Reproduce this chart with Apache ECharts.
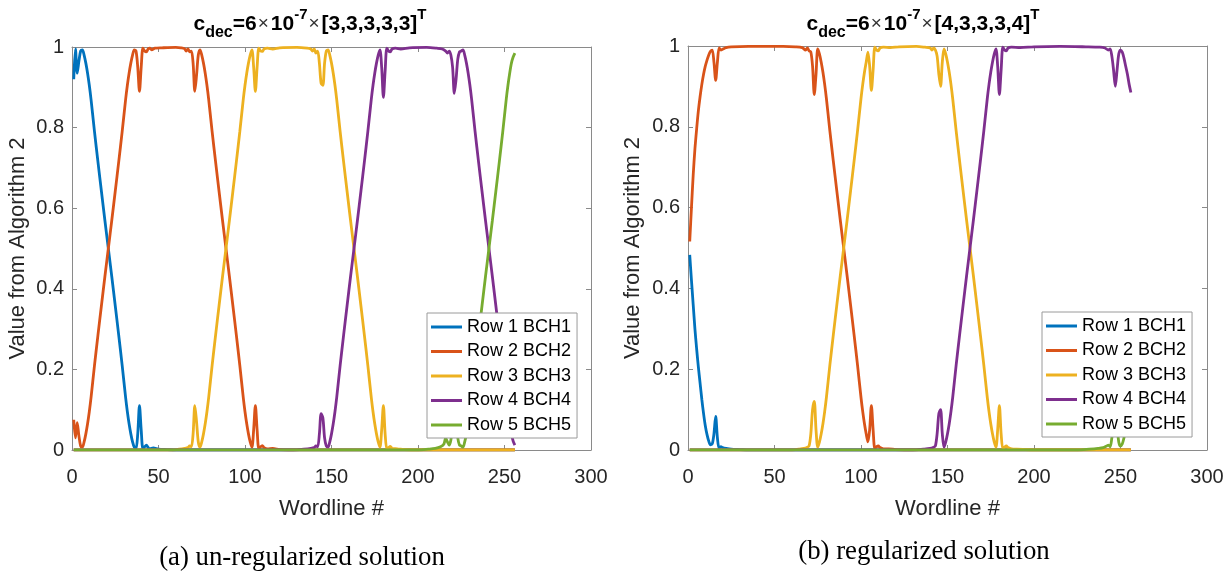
<!DOCTYPE html>
<html>
<head>
<meta charset="utf-8">
<script src="https://cdn.jsdelivr.net/npm/echarts@6/dist/echarts.min.js"></script>
<style>html,body{margin:0;padding:0;background:#fff}#c{width:1231px;height:573px}</style>
</head>
<body>
<div id="c"></div>
<script>
// ---------- DATA ----------
const seriesNames = ['Row 1 BCH1', 'Row 2 BCH2', 'Row 3 BCH3', 'Row 4 BCH4', 'Row 5 BCH5'];
const xTicks = [0, 50, 100, 150, 200, 250, 300];
const yTicks = [0, 0.2, 0.4, 0.6, 0.8, 1];
const titleA = ['3,3,3,3,3'];
const titleB = ['4,3,3,3,4'];
const captionA = '(a) un-regularized solution';
const captionB = '(b) regularized solution';

// (a) un-regularized: [wordline, value]
const aRow1 = [[1,0.92],[2,0.995],[3,0.935],[4,0.965],[5,0.99],[6,0.993],[7,0.98],[8,0.96],[9,0.935],[10,0.905],[11,0.87],[13,0.79],[15,0.715],[17,0.642],[19,0.57],[21,0.5],[23,0.43],[25,0.358],[27,0.285],[29,0.21],[31,0.13],[32,0.095],[33,0.065],[34,0.04],[35,0.02],[36,0.007],[37,0.003],[38,0.04],[39,0.11],[40,0.05],[41,0.003],[42,0.008],[43,0.012],[44,0.006],[45,0.003],[47,0.005],[50,0.002],[55,0.001],[60,0],[256,0]];
const aRow2 = [[1,0.075],[2,0.03],[3,0.068],[4,0.035],[5,0.01],[6,0.007],[7,0.02],[8,0.04],[9,0.065],[10,0.095],[11,0.13],[13,0.21],[15,0.285],[17,0.358],[19,0.43],[21,0.5],[23,0.57],[25,0.642],[27,0.715],[29,0.79],[31,0.87],[32,0.905],[33,0.935],[34,0.96],[35,0.98],[36,0.993],[37,0.99],[38,0.95],[39,0.89],[40,0.95],[41,0.997],[42,0.99],[43,0.988],[44,0.995],[45,0.997],[46,0.993],[48,0.997],[52,0.998],[60,0.999],[63,0.998],[65,0.996],[66,0.99],[67,0.995],[68,0.988],[69,0.99],[70,0.96],[71,0.89],[72,0.93],[73,0.98],[74,0.993],[75,0.98],[76,0.96],[77,0.935],[78,0.905],[79,0.87],[81,0.79],[83,0.715],[85,0.642],[87,0.57],[89,0.5],[91,0.43],[93,0.358],[95,0.285],[97,0.21],[99,0.13],[100,0.095],[101,0.065],[102,0.04],[103,0.02],[104,0.007],[105,0.05],[106,0.11],[107,0.05],[108,0.003],[109,0.008],[110,0.011],[111,0.006],[113,0.003],[116,0.004],[120,0.001],[125,0],[256,0]];
const aRow3 = [[1,0],[58,0],[62,0.002],[65,0.004],[67,0.006],[68,0.01],[69,0.008],[70,0.04],[71,0.11],[72,0.07],[73,0.02],[74,0.007],[75,0.02],[76,0.04],[77,0.065],[78,0.095],[79,0.13],[81,0.21],[83,0.285],[85,0.358],[87,0.43],[89,0.5],[91,0.57],[93,0.642],[95,0.715],[97,0.79],[99,0.87],[100,0.905],[101,0.935],[102,0.96],[103,0.98],[104,0.993],[105,0.95],[106,0.89],[107,0.95],[108,0.997],[109,0.99],[110,0.989],[111,0.995],[113,0.997],[116,0.995],[120,0.998],[130,0.999],[136,0.997],[138,0.995],[139,0.99],[140,0.995],[141,0.985],[142,0.99],[143,0.96],[144,0.91],[145,0.905],[146,0.96],[147,0.99],[148,0.993],[149,0.98],[150,0.96],[151,0.935],[152,0.905],[153,0.87],[155,0.79],[157,0.715],[159,0.642],[161,0.57],[163,0.5],[165,0.43],[167,0.358],[169,0.285],[171,0.21],[173,0.13],[174,0.095],[175,0.065],[176,0.04],[177,0.02],[178,0.007],[179,0.05],[180,0.11],[181,0.04],[182,0.002],[183,0.006],[184,0.009],[185,0.004],[188,0.003],[192,0.001],[196,0],[256,0]];
const aRow4 = [[1,0],[128,0],[134,0.002],[138,0.004],[140,0.006],[141,0.01],[142,0.008],[143,0.04],[144,0.09],[145,0.08],[146,0.03],[147,0.01],[148,0.007],[149,0.02],[150,0.04],[151,0.065],[152,0.095],[153,0.13],[155,0.21],[157,0.285],[159,0.358],[161,0.43],[163,0.5],[165,0.57],[167,0.642],[169,0.715],[171,0.79],[173,0.87],[174,0.905],[175,0.935],[176,0.96],[177,0.98],[178,0.993],[179,0.95],[180,0.875],[181,0.94],[182,0.997],[183,0.99],[184,0.988],[185,0.995],[187,0.997],[190,0.995],[195,0.998],[205,0.999],[211,0.997],[214,0.995],[216,0.99],[217,0.985],[218,0.99],[219,0.98],[220,0.95],[221,0.885],[222,0.92],[223,0.97],[224,0.988],[225,0.99],[226,0.993],[227,0.98],[228,0.96],[229,0.935],[230,0.905],[231,0.87],[233,0.79],[235,0.715],[237,0.642],[239,0.57],[241,0.5],[243,0.43],[245,0.358],[247,0.285],[249,0.21],[251,0.13],[252,0.095],[253,0.065],[254,0.04],[255,0.022],[256,0.012]];
const aRow5 = [[1,0],[200,0],[206,0.002],[210,0.004],[213,0.008],[215,0.015],[216,0.03],[217,0.02],[218,0.012],[219,0.025],[220,0.06],[221,0.11],[222,0.08],[223,0.03],[224,0.012],[225,0.01],[226,0.007],[227,0.02],[228,0.04],[229,0.065],[230,0.095],[231,0.13],[233,0.21],[235,0.285],[237,0.358],[239,0.43],[241,0.5],[243,0.57],[245,0.642],[247,0.715],[249,0.79],[251,0.87],[252,0.905],[253,0.935],[254,0.96],[255,0.975],[256,0.985]];

// (b) regularized
const bRow1 = [[1,0.483],[2,0.42],[3,0.36],[4,0.3],[5,0.25],[6,0.205],[7,0.165],[8,0.125],[9,0.09],[10,0.06],[11,0.038],[12,0.022],[13,0.013],[14,0.015],[15,0.04],[16,0.083],[17,0.03],[18,0.004],[19,0.008],[20,0.006],[22,0.004],[25,0.002],[30,0.001],[35,0],[256,0]];
const bRow2 = [[1,0.516],[2,0.6],[3,0.68],[4,0.745],[5,0.795],[6,0.84],[7,0.875],[8,0.905],[9,0.93],[10,0.95],[11,0.965],[12,0.978],[13,0.987],[14,0.99],[15,0.96],[16,0.915],[17,0.96],[18,0.995],[19,0.99],[20,0.992],[22,0.996],[25,0.998],[35,0.999],[55,0.999],[62,0.998],[66,0.996],[68,0.99],[69,0.995],[70,0.988],[71,0.985],[72,0.95],[73,0.88],[74,0.93],[75,0.993],[76,0.98],[77,0.96],[78,0.935],[79,0.905],[80,0.87],[82,0.79],[84,0.715],[86,0.642],[88,0.57],[90,0.5],[92,0.43],[94,0.358],[96,0.285],[98,0.21],[100,0.13],[101,0.095],[102,0.065],[103,0.04],[104,0.02],[105,0.05],[106,0.11],[107,0.05],[108,0.004],[109,0.008],[110,0.01],[111,0.006],[113,0.003],[116,0.003],[120,0.001],[125,0],[256,0]];
const bRow3 = [[1,0],[60,0],[64,0.002],[67,0.004],[69,0.007],[70,0.01],[71,0.04],[72,0.1],[73,0.12],[74,0.05],[75,0.007],[76,0.02],[77,0.04],[78,0.065],[79,0.095],[80,0.13],[82,0.21],[84,0.285],[86,0.358],[88,0.43],[90,0.5],[92,0.57],[94,0.642],[96,0.715],[98,0.79],[100,0.87],[101,0.905],[102,0.935],[103,0.96],[104,0.985],[105,0.95],[106,0.89],[107,0.94],[108,0.997],[109,0.99],[110,0.988],[111,0.995],[113,0.997],[117,0.996],[122,0.998],[132,0.999],[137,0.997],[140,0.995],[141,0.99],[142,0.995],[143,0.99],[144,0.975],[145,0.93],[146,0.9],[147,0.96],[148,0.993],[149,0.98],[150,0.96],[151,0.935],[152,0.905],[153,0.87],[155,0.79],[157,0.715],[159,0.642],[161,0.57],[163,0.5],[165,0.43],[167,0.358],[169,0.285],[171,0.21],[173,0.13],[174,0.095],[175,0.065],[176,0.04],[177,0.02],[178,0.007],[179,0.05],[180,0.11],[181,0.04],[182,0.003],[183,0.007],[184,0.01],[185,0.006],[187,0.003],[190,0.002],[195,0.001],[200,0],[256,0]];
const bRow4 = [[1,0],[130,0],[136,0.002],[140,0.004],[142,0.007],[143,0.01],[144,0.04],[145,0.09],[146,0.1],[147,0.04],[148,0.007],[149,0.02],[150,0.04],[151,0.065],[152,0.095],[153,0.13],[155,0.21],[157,0.285],[159,0.358],[161,0.43],[163,0.5],[165,0.57],[167,0.642],[169,0.715],[171,0.79],[173,0.87],[174,0.905],[175,0.935],[176,0.96],[177,0.98],[178,0.993],[179,0.95],[180,0.88],[181,0.94],[182,0.997],[183,0.99],[184,0.988],[185,0.995],[187,0.997],[192,0.996],[200,0.998],[215,0.999],[230,0.998],[238,0.997],[241,0.995],[243,0.99],[244,0.993],[245,0.975],[246,0.94],[247,0.9],[248,0.94],[249,0.98],[250,0.99],[251,0.985],[252,0.97],[253,0.95],[254,0.93],[255,0.905],[256,0.885]];
const bRow5 = [[1,0],[225,0],[232,0.002],[237,0.004],[240,0.006],[242,0.01],[243,0.012],[244,0.008],[245,0.03],[246,0.06],[247,0.1],[248,0.06],[249,0.02],[250,0.01],[251,0.015],[252,0.03],[253,0.05],[254,0.07],[255,0.095],[256,0.115]];

// ---------- STYLE / LAYOUT ----------
const colors = ['#0072BD', '#D95319', '#EDB120', '#7E2F8E', '#77AC30'];
const FONT = '"Liberation Sans", Arial, sans-serif';
const AX = '#8a8a8a';
const TXT = '#262626';
const gridsPos = [
  {left: 72, top: 47, width: 519, height: 403},
  {left: 688, top: 46, width: 519, height: 404}
];
const panels = [[aRow1, aRow2, aRow3, aRow4, aRow5], [bRow1, bRow2, bRow3, bRow4, bRow5]];

const chart = echarts.init(document.getElementById('c'), null, {renderer: 'canvas'});

const xAxes = [], yAxes = [], series = [];
gridsPos.forEach((g, i) => {
  const common = {
    gridIndex: i, type: 'value', splitLine: {show: false},
    axisLine: {show: true, onZero: false, lineStyle: {color: AX, width: 1}},
    axisTick: {show: true, inside: true, length: 5, lineStyle: {color: AX}}
  };
  xAxes.push(Object.assign({}, common, {
    position: 'bottom', min: xTicks[0], max: xTicks[xTicks.length - 1], interval: xTicks[1] - xTicks[0],
    axisLabel: {color: TXT, fontSize: 20, fontFamily: FONT, margin: 17},
    name: 'Wordline #', nameLocation: 'middle', nameGap: 48,
    nameTextStyle: {color: TXT, fontSize: 22, fontFamily: FONT}
  }));
  xAxes.push(Object.assign({}, common, {
    position: 'top', min: xTicks[0], max: xTicks[xTicks.length - 1], interval: xTicks[1] - xTicks[0],
    axisLabel: {show: false}
  }));
  yAxes.push(Object.assign({}, common, {
    position: 'left', min: yTicks[0], max: yTicks[yTicks.length - 1], interval: yTicks[1] - yTicks[0],
    axisLabel: {color: TXT, fontSize: 20, fontFamily: FONT, margin: 8},
    name: 'Value from Algorithm 2', nameLocation: 'middle', nameGap: i === 0 ? 43 : 44,
    nameTextStyle: {color: TXT, fontSize: 22, fontFamily: FONT}
  }));
  yAxes.push(Object.assign({}, common, {
    position: 'right', min: yTicks[0], max: yTicks[yTicks.length - 1], interval: yTicks[1] - yTicks[0],
    axisLabel: {show: false}
  }));
  panels[i].forEach((d, k) => {
    series.push({
      type: 'line', name: seriesNames[k], data: d,
      xAxisIndex: i * 2, yAxisIndex: i * 2,
      showSymbol: false, symbol: 'none', smooth: 0.3,
      lineStyle: {color: colors[k], width: 2.8},
      itemStyle: {color: colors[k]},
      emphasis: {disabled: true},
      z: 2 + k * 0.01
    });
  });
});

function legendAt(left, top) {
  return {
    data: seriesNames, left: left, top: top, orient: 'vertical',
    icon: 'rect', itemWidth: 31, itemHeight: 3, itemGap: 4.5,
    padding: [4, 6, 3, 4], backgroundColor: '#fff',
    borderColor: '#9a9a9a', borderWidth: 1, selectedMode: false,
    textStyle: {fontSize: 18, color: '#000', fontFamily: FONT, lineHeight: 20}
  };
}

function titleEl(x, y, vec) {
  const b = {fontSize: 21, fontWeight: 'bold', fontFamily: FONT, fill: '#000', lineHeight: 34, verticalAlign: 'middle'};
  return {
    type: 'text', x: x, y: y, z: 10,
    style: {
      text: '{m|c}{s|dec}{m|=6}{x|×}{m|10}{p|-7}{x|×}{m|[' + vec + ']}{p|T}',
      align: 'center', verticalAlign: 'middle',
      rich: {
        m: b,
        s: {fontSize: 16, fontWeight: 'bold', fontFamily: FONT, fill: '#000', lineHeight: 15, verticalAlign: 'bottom'},
        p: {fontSize: 15, fontWeight: 'bold', fontFamily: FONT, fill: '#000', lineHeight: 21, verticalAlign: 'top'},
        x: {fontSize: 19, fontWeight: 'normal', fontFamily: FONT, fill: '#333', lineHeight: 34, verticalAlign: 'middle', padding: [0, 2, 0, 1]}
      }
    }
  };
}

function captionEl(x, y, text) {
  return {
    type: 'text', x: x, y: y, z: 10,
    style: {text: text, align: 'center', verticalAlign: 'middle', fontSize: 26.8, fontFamily: '"Liberation Serif", "Times New Roman", serif', fill: '#000'}
  };
}

chart.setOption({
  animation: false,
  backgroundColor: '#fff',
  grid: gridsPos.map(g => Object.assign({containLabel: false}, g)),
  xAxis: xAxes,
  yAxis: yAxes,
  legend: [legendAt(427, 313), legendAt(1042, 312)],
  series: series,
  graphic: [
    titleEl(310, 24, titleA[0]),
    titleEl(923, 24, titleB[0]),
    captionEl(302, 558, captionA),
    captionEl(924, 552, captionB)
  ]
});
</script>
</body>
</html>
